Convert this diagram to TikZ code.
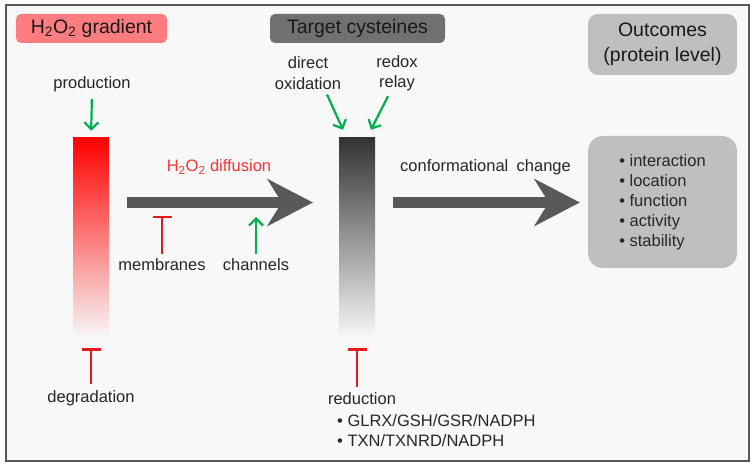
\documentclass[tikz,border=0pt]{standalone}
\usepackage{fontspec}
\setmainfont{Liberation Sans}
\usepackage{xcolor}
\usepackage{tikz}
\usetikzlibrary{arrows.meta, positioning}

\definecolor{bgcol}{HTML}{F8F8F8}
\definecolor{framecol}{HTML}{595959}
\definecolor{gradcol}{HTML}{FF7C80}
\definecolor{cyscol}{HTML}{707070}
\definecolor{outcol}{HTML}{BFBFBF}
\definecolor{flowgray}{HTML}{595959}
\definecolor{actgreen}{HTML}{00B050}
\definecolor{inhred}{HTML}{E31A1C}
\definecolor{diffred}{HTML}{FF3333}
\definecolor{txtcol}{HTML}{262626}

\begin{document}
\begin{tikzpicture}[
    x=1pt, y=-1pt,
    titlebox/.style={rectangle, rounded corners=5pt, inner sep=0pt, align=center, font=\fontsize{19.5}{25}\selectfont, text=black!90},
    lbl/.style={font=\fontsize{16.5}{20.5}\selectfont, text=txtcol, align=center, inner sep=1pt},
    bar/.style={rectangle, inner sep=0pt, minimum width=36pt, minimum height=200pt},
    listbox/.style={rectangle, fill=outcol, rounded corners=15pt, minimum width=149pt, minimum height=132pt, align=left, font=\fontsize{16.5}{20}\selectfont, text=txtcol},
    act/.style={-{Straight Barb[length=7pt, width=14pt]}, line width=2.2pt, actgreen},
    inh/.style={-{Bar[width=19pt, line width=2.4pt]}, line width=2.2pt, inhred},
    flow/.style={-{Stealth[length=46pt, width=48pt, inset=15pt, line width=0pt]}, line width=11pt, flowgray}
]

% Frame
\useasboundingbox (0,0) rectangle (756,468);
\draw[fill=bgcol, draw=framecol, line width=1.5pt] (6,5) rectangle (749,461);

% Headers
\node[titlebox, fill=gradcol, minimum width=151pt, minimum height=29pt] (gradhead) at (91.5,28.5) {H\textsubscript{2}O\textsubscript{2} gradient};
\node[titlebox, fill=cyscol, minimum width=175pt, minimum height=29pt] (cyshead) at (357.5,28.5) {Target cysteines};
\node[titlebox, fill=outcol, minimum width=149pt, minimum height=61pt, rounded corners=10pt] (outhead) at (662.5,44.5) {Outcomes\\(protein level)};

% Bars
\node[bar, top color=red, bottom color=bgcol] (h2o2bar) at (91,238) {};
\node[bar, top color=black!80, bottom color=bgcol] (cysbar) at (357,238) {};

% Outcome list
\node[listbox] (outlist) at (662.5,202) {\textbullet\ interaction\\\textbullet\ location\\\textbullet\ function\\\textbullet\ activity\\\textbullet\ stability};

% Labels
\node[lbl] (prod) at (92,84) {production};
\node[lbl, text=diffred] (diff) at (219,167) {H\textsubscript{2}O\textsubscript{2} diffusion};
\node[lbl] (memb) at (162,265) {membranes};
\node[lbl] (chan) at (256,265) {channels};
\node[lbl] (degr) at (91,398) {degradation};
\node[lbl] (dirox) at (308,73) {direct\\oxidation};
\node[lbl] (relay) at (397,73) {redox\\relay};
\node[lbl] (conf) at (485.5,167) {conformational\hspace{0.5em}change};
\node[lbl] (redn) at (362,399) {reduction};
\node[lbl, align=left, anchor=north west] (redlist) at (336,413) {\textbullet\ GLRX/GSH/GSR/NADPH\\\textbullet\ TXN/TXNRD/NADPH};

% Free ends on the diffusion arrow
\coordinate (membin) at (162,208);
\coordinate (chanin) at (256,208);

% Diffusion and conformational arrows
\draw[flow, shorten <=18pt, shorten >=26pt] ([yshift=35.5pt]h2o2bar.east) -- ([yshift=35.5pt]cysbar.west);
\draw[flow, shorten <=18pt, shorten >=8pt] ([yshift=35.5pt]cysbar.east) -- ([yshift=-0.5pt]outlist.west);

% Activation
\draw[act, shorten <=6pt, shorten >=7pt] (prod.south) -- (h2o2bar.north);
\draw[act, shorten <=4pt, shorten >=9pt] (chan.north) -- (chanin);
\draw[act] ([xshift=19pt, yshift=-4pt]dirox.south) -- ([xshift=-14pt, yshift=8pt]cysbar.north);
\draw[act] ([xshift=-9pt, yshift=-4pt]relay.south) -- ([xshift=14pt, yshift=8pt]cysbar.north);

% Inhibition
\draw[inh, shorten <=4pt, shorten >=8pt] (memb.north) -- (membin);
\draw[inh, shorten <=5pt, shorten >=10pt] (h2o2bar.south |- degr.north) -- (h2o2bar.south);
\draw[inh, shorten <=5pt, shorten >=10pt] (cysbar.south |- redn.north) -- (cysbar.south);

\end{tikzpicture}
\end{document}
